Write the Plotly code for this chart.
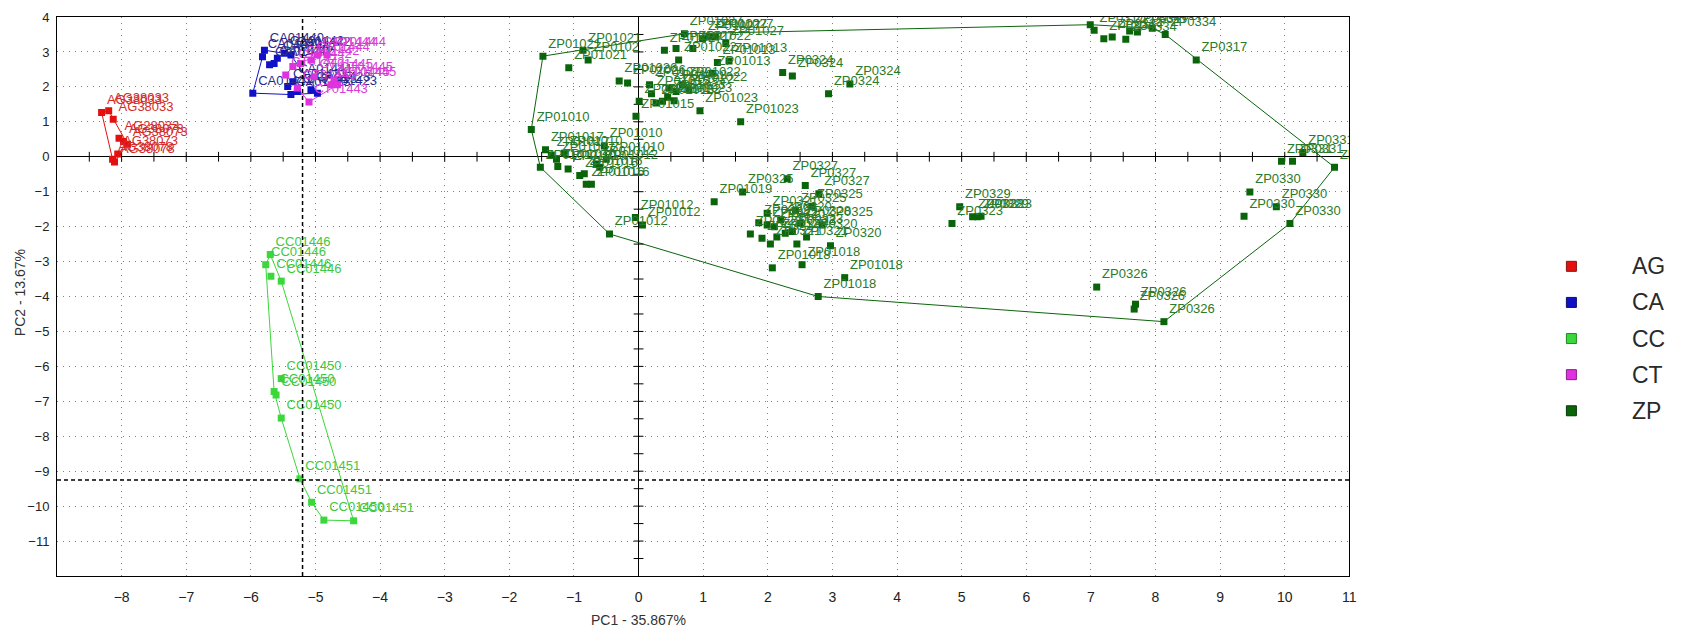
import numpy as np
import plotly.graph_objects as go

# ---- axes ----
x_range = [-9, 11]
y_range = [-12, 4]
x_ticks = list(range(-8, 12))
y_ticks = list(range(-11, 5))
x_title = "PC1 - 35.867%"
y_title = "PC2 - 13.67%"

# reference lines
ref_x = -5.2
ref_y = -9.25

groups = ["AG", "CA", "CC", "CT", "ZP"]

# ---- scores ----
ag_x = [-8.31, -8.20, -8.13, -8.04, -7.97, -7.91, -8.06, -8.11, -8.14]
ag_y = [1.27, 1.32, 1.07, 0.53, 0.44, 0.36, 0.08, -0.15, -0.07]
ag_lab = ["AG38033", "AG38033", "AG38033", "AG28033", "AG38073", "AG38073",
          "AG38073", "AG38078", "AG38078"]

ca_x = [-5.97, -5.79, -5.82, -5.71, -5.64, -5.59, -5.48, -5.38, -5.43, -5.38,
        -5.28, -5.07, -4.97, -5.35]
ca_y = [1.82, 3.05, 2.86, 2.63, 2.67, 2.82, 2.96, 2.91, 2.01, 1.78,
        1.87, 1.92, 1.82, 2.15]
ca_lab = ["CA01441", "CA01440", "CA01440", "CA01440", "CA01442", "CA01442",
          "CA01442", "CA01442", "CA01423", "CA01423", "CA01423", "CA01423",
          "CA01423", "CA01441"]

cc_x = [-5.70, -5.77, -5.69, -5.53, -5.53, -5.64, -5.61, -5.53, -5.24, -5.06,
        -4.87, -4.41]
cc_y = [-2.80, -3.09, -3.42, -3.56, -6.35, -6.72, -6.82, -7.48, -9.22, -9.89,
        -10.40, -10.42]
cc_lab = ["CC01446", "CC01446", "CC01446", "CC01446", "CC01450", "CC01450",
          "CC01450", "CC01450", "CC01451", "CC01451", "CC01450", "CC01451"]

ct_x = [-5.46, -5.35, -5.23, -5.07, -4.97, -4.82, -4.71, -4.66, -4.76, -5.10,
        -5.28, -5.02]
ct_y = [2.34, 2.58, 2.67, 2.77, 2.91, 2.91, 2.20, 2.06, 2.06, 1.57,
        1.97, 2.29]
ct_lab = ["CT01442", "CT01442", "CT01442", "CT01444", "CT01444", "CT01444",
          "CT01445", "CT01445", "CT01445", "CT01443", "CT01443", "CT01445"]

zp_x = [
    # 01021 / 01027 / 01013 / 01015 / 01022 / 01023
    -1.48, -0.86, -0.78, -1.08, -0.30, -0.17, 0.17, 0.40, 0.58, 0.71,
    0.84, 0.62, 0.99, 1.09, 1.19, 1.35, 1.22, 1.40, 1.14, 0.01,
    -0.04, 0.27, 0.37, 0.47, 0.58, 0.68, 0.78, 0.95, 1.58, 0.20,
    0.45, 0.55,
    # 0324
    2.23, 2.38, 2.94, 3.27,
    # 01010 / 01017 / 01016 / 01012
    -1.66, -1.44, -0.53, -1.52, -1.27, -1.25, -1.09, -0.91, -0.84, -0.81,
    -0.73, -0.65, -0.60, -0.50, -1.35, -1.15,
    # 01012 / 01019 / 032x / 01018
    -0.45, -0.05, 0.06, 1.17, 1.61, 2.30, 2.58, 2.79, 2.68, 1.99,
    1.86, 1.99, 1.73, 1.91, 2.04, 2.14, 2.27, 2.38, 2.43, 2.45,
    2.84, 2.97, 2.07, 2.53, 3.19, 2.78, 2.20, 2.50, 2.60, 2.10,
    # 0329 / 0323 / 0328
    4.97, 4.85, 5.17, 5.25, 5.30,
    # 0317 / 0334
    6.99, 7.05, 7.20, 7.33, 7.54, 7.72, 7.95, 8.15, 8.63, 7.60,
    # 0331 / 0330
    9.95, 10.12, 10.28, 10.77, 9.46, 9.87, 9.37, 10.08,
    # 0326
    7.09, 7.69, 7.67, 8.13,
]
zp_y = [
    2.88, 3.05, 2.77, 2.55, 2.17, 2.11, 2.06, 3.05, 3.10, 3.52,
    3.10, 2.77, 3.38, 3.43, 3.43, 3.24, 2.70, 2.74, 2.39, 1.59,
    1.16, 1.54, 1.59, 1.97, 1.87, 2.06, 1.92, 1.32, 1.00, 1.80,
    1.70, 1.60,
    2.41, 2.31, 1.80, 2.08,
    0.78, 0.20, 0.31, -0.30, -0.07, -0.28, -0.35, -0.54, -0.49, -0.79,
    -0.79, -0.21, -0.30, -0.07, 0.05, 0.10,
    -2.21, -1.74, -1.95, -1.29, -1.01, -0.63, -0.82, -1.06, -1.42, -1.62,
    -1.89, -1.95, -2.21, -2.33, -2.50, -2.30, -2.19, -2.14, -1.53, -2.50,
    -1.95, -2.55, -3.18, -3.09, -3.46, -4.00, -1.80, -1.90, -2.30, -2.00,
    -1.43, -1.91, -1.72, -1.72, -1.70,
    3.78, 3.62, 3.38, 3.43, 3.36, 3.57, 3.68, 3.50, 2.77, 3.60,
    -0.13, -0.13, 0.12, -0.30, -1.01, -1.43, -1.70, -1.91,
    -3.73, -4.22, -4.36, -4.72,
]
zp_lab = [
    "ZP01021", "ZP01021", "ZP0102", "ZP01021", "ZP01026", "ZP01026",
    "ZP01022", "ZP01027", "ZP01027", "ZP01027", "ZP01022", "ZP01022",
    "ZP01027", "ZP01027", "ZP01027", "ZP01027", "ZP01013", "ZP01013",
    "ZP01013", "ZP01015", "ZP01015", "ZP01015", "ZP01022", "ZP01022",
    "ZP01022", "ZP01022", "ZP01022", "ZP01023", "ZP01023", "ZP01015",
    "ZP01023", "ZP01023",
    "ZP0324", "ZP0324", "ZP0324", "ZP0324",
    "ZP01010", "ZP01017", "ZP01010", "ZP01017", "ZP01017", "ZP01010",
    "ZP01010", "ZP01016", "ZP01016", "ZP01016", "ZP01016", "ZP01012",
    "ZP01012", "ZP01010", "ZP01017", "ZP01010",
    "ZP01012", "ZP01012", "ZP01012", "ZP01019", "ZP0325", "ZP0327",
    "ZP0327", "ZP0327", "ZP0325", "ZP0321", "ZP0322", "ZP0322",
    "ZP0322", "ZP0321", "ZP0321", "ZP0323", "ZP0323", "ZP0323",
    "ZP0325", "ZP0321", "ZP0325", "ZP0320", "ZP01018", "ZP01018",
    "ZP01018", "ZP01018", "ZP0320", "ZP0328", "ZP0320", "ZP0320",
    "ZP0329", "ZP0323", "ZP0328", "ZP0329", "ZP0323",
    "ZP0317", "ZP0317", "ZP0334", "ZP0334", "ZP0334", "ZP0317",
    "ZP0317", "ZP0334", "ZP0317", "ZP0334",
    "ZP0331", "ZP0331", "ZP0331", "ZP0331", "ZP0330", "ZP0330",
    "ZP0330", "ZP0330",
    "ZP0326", "ZP0326", "ZP0326", "ZP0326",
]

marker_colors = {"AG": "#e41010", "CA": "#1010c8", "CC": "#3ad83a",
                 "CT": "#e030e0", "ZP": "#0a640a"}
label_colors = {"AG": "#d42a2a", "CA": "#2a2a8c", "CC": "#40c840",
                "CT": "#d83cd8", "ZP": "#2a7a2a"}
edge_colors = {"AG": "#8a1010", "CA": "#10106a", "CC": "#1f8a1f",
               "CT": "#8a1a8a", "ZP": "#063a06"}

data = {
    "AG": (ag_x, ag_y, ag_lab),
    "CA": (ca_x, ca_y, ca_lab),
    "CC": (cc_x, cc_y, cc_lab),
    "CT": (ct_x, ct_y, ct_lab),
    "ZP": (zp_x, zp_y, zp_lab),
}


def convex_hull(xs, ys):
    pts = sorted(set(zip(xs, ys)))
    if len(pts) < 3:
        return pts

    def cross(o, a, b):
        return (a[0] - o[0]) * (b[1] - o[1]) - (a[1] - o[1]) * (b[0] - o[0])

    lower, upper = [], []
    for p in pts:
        while len(lower) >= 2 and cross(lower[-2], lower[-1], p) <= 0:
            lower.pop()
        lower.append(p)
    for p in reversed(pts):
        while len(upper) >= 2 and cross(upper[-2], upper[-1], p) <= 0:
            upper.pop()
        upper.append(p)
    hull = lower[:-1] + upper[:-1]
    return hull + [hull[0]]


label_font = "Liberation Sans Narrow, Arial Narrow, Liberation Sans, Arial, sans-serif"
axis_font = "Liberation Sans, Arial, sans-serif"

fig = go.Figure()

# class envelopes
for g in groups:
    xs, ys, _ = data[g]
    hull = convex_hull(xs, ys)
    fig.add_trace(go.Scatter(
        x=[p[0] for p in hull], y=[p[1] for p in hull], mode="lines",
        line=dict(color=marker_colors[g], width=1), hoverinfo="skip",
        showlegend=False))

# half-unit tick marks along the zero axes
half = 0.5
hx = np.arange(x_range[0] + half, x_range[1], half)
hy = np.arange(y_range[0] + half, y_range[1], half)
fig.add_trace(go.Scatter(
    x=hx, y=np.zeros_like(hx), mode="markers", hoverinfo="skip",
    marker=dict(symbol="line-ns-open", size=7, color="black",
                line=dict(color="black", width=1)),
    showlegend=False))
fig.add_trace(go.Scatter(
    x=np.zeros_like(hy), y=hy, mode="markers", hoverinfo="skip",
    marker=dict(symbol="line-ew-open", size=7, color="black",
                line=dict(color="black", width=1)),
    showlegend=False))

# sample scores with names
for g in groups:
    xs, ys, labs = data[g]
    fig.add_trace(go.Scatter(
        x=xs, y=ys, mode="markers+text", text=labs, textposition="top right",
        textfont=dict(family=label_font, size=13, color=label_colors[g]),
        marker=dict(symbol="square", size=7, color=marker_colors[g],
                    line=dict(width=0)),
        name=g, showlegend=False, cliponaxis=True))

# dashed reference lines
fig.add_shape(type="line", xref="x", yref="y", x0=ref_x, x1=ref_x,
              y0=y_range[0], y1=y_range[1],
              line=dict(color="black", width=1.5, dash="4px,3px"))
fig.add_shape(type="line", xref="x", yref="y", x0=x_range[0], x1=x_range[1],
              y0=ref_y, y1=ref_y,
              line=dict(color="black", width=1.5, dash="4px,3px"))

# ---- layout geometry (pixels) ----
W, H = 1681, 642
m_l, m_r, m_t, m_b = 57, 10, 11, 66
plot_w = 1298
paper_w = W - m_l - m_r
paper_h = H - m_t - m_b


def px_to_paper_x(px):
    return (px - m_l) / paper_w


def px_to_paper_y(py):
    return (H - m_b - py) / paper_h


# legend drawn at the right
leg_sq_x = 1578
leg_txt_x = 1637
leg_y0 = 263
leg_dy = 36.5
for i, g in enumerate(groups):
    py = leg_y0 + i * leg_dy
    fig.add_shape(type="rect", xref="paper", yref="paper",
                  xsizemode="pixel", ysizemode="pixel",
                  xanchor=px_to_paper_x(leg_sq_x), yanchor=px_to_paper_y(py),
                  x0=-5, x1=5, y0=-5, y1=5,
                  fillcolor=marker_colors[g], line=dict(color=edge_colors[g], width=1))
    fig.add_annotation(xref="paper", yref="paper", x=px_to_paper_x(leg_txt_x),
                       y=px_to_paper_y(py), text=g, showarrow=False,
                       xanchor="left", yanchor="middle",
                       font=dict(family=label_font, size=23, color="#2a2a2a"))

# axis titles
fig.add_annotation(xref="x", yref="paper", x=0, y=px_to_paper_y(620), text=x_title,
                   showarrow=False, xanchor="center", yanchor="middle",
                   font=dict(family=label_font, size=14, color="#333"))
fig.add_annotation(xref="paper", yref="paper", x=px_to_paper_x(20), y=px_to_paper_y(290),
                   text=y_title, textangle=-90, showarrow=False,
                   xanchor="center", yanchor="middle",
                   font=dict(family=axis_font, size=14, color="#333"))

axis_common = dict(
    showgrid=True, gridcolor="#808080", griddash="1px,5px", gridwidth=1.2,
    zeroline=True, zerolinecolor="black", zerolinewidth=1,
    showline=True, linecolor="black", linewidth=1, mirror=True,
    ticks="",
)

fig.update_layout(
    width=W, height=H,
    margin=dict(l=m_l, r=m_r, t=m_t, b=m_b),
    paper_bgcolor="white", plot_bgcolor="white",
    showlegend=False,
    xaxis=dict(range=x_range, tickvals=x_ticks, domain=[0, plot_w / paper_w],
               ticklabelstandoff=8,
               tickfont=dict(family=label_font, size=14, color="#222"),
               **axis_common),
    yaxis=dict(range=y_range, tickvals=y_ticks, ticklabelstandoff=4,
               tickfont=dict(family=axis_font, size=13, color="#222"),
               **axis_common),
)

fig.write_html("out.html")
